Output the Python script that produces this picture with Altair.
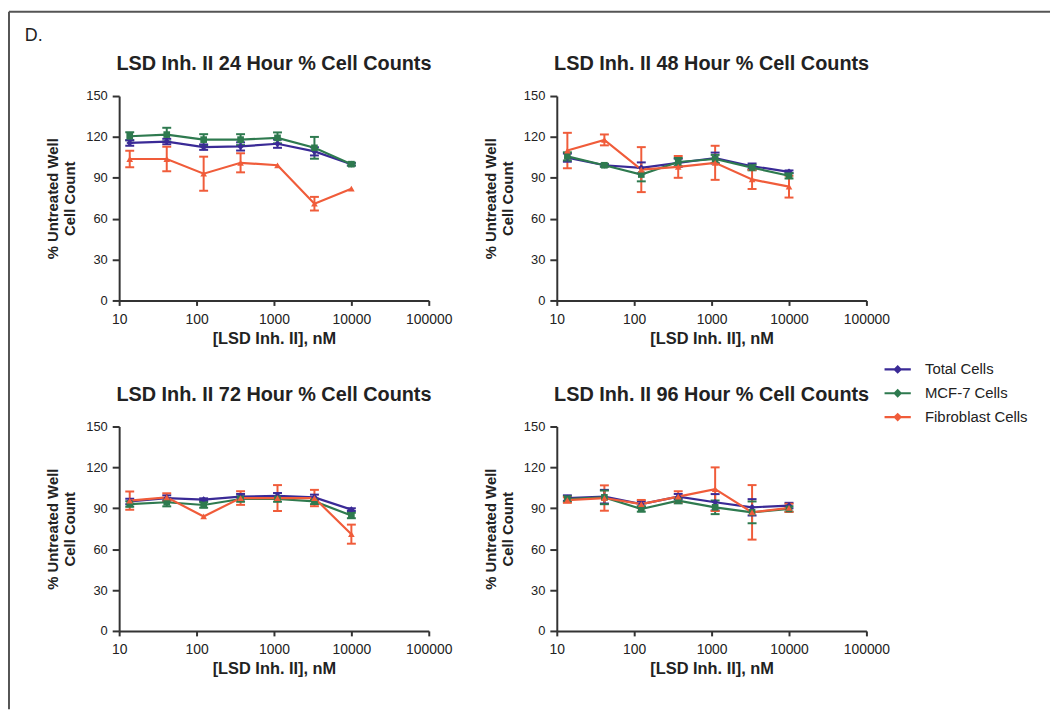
import altair as alt
import pandas as pd

# ---- data ----
concs = [13.7, 41.2, 123.5, 370.4, 1111.1, 3333.3, 10000]
series_names = ["Total Cells", "MCF-7 Cells", "Fibroblast Cells"]
hours = ["24", "48", "72", "96"]

total_24 = [115.6, 116.6, 112.5, 113.0, 115.0, 109.4, 100.0]
total_24_err = [2, 2, 2, 3, 3, 3, 1]
mcf_24 = [120.5, 121.7, 118.0, 118.0, 119.3, 112.0, 100.0]
mcf_24_err = [3, 5, 4, 4, 4, 8, 1]
fib_24 = [103.8, 103.8, 93.0, 101.0, 99.2, 71.0, 82.0]
fib_24_err = [6, 9, 12.5, 7, 0, 5, 0]

total_48 = [104.8, 99.2, 97.3, 101.0, 104.5, 98.5, 94.4]
total_48_err = [3, 1, 4, 3, 4, 2, 1]
mcf_48 = [105.7, 99.2, 92.4, 101.6, 103.8, 97.5, 91.5]
mcf_48_err = [3, 1, 5, 3, 3, 2, 2]
fib_48 = [110.0, 117.8, 96.0, 98.0, 101.0, 88.8, 83.5]
fib_48_err = [13, 4, 16.5, 8, 12.5, 7, 8]

total_72 = [95.0, 97.5, 96.3, 98.5, 99.2, 98.0, 89.0]
total_72_err = [2, 2, 1, 2, 2, 2, 1]
mcf_72 = [93.1, 94.4, 92.4, 96.8, 96.8, 95.0, 84.7]
mcf_72_err = [2, 3, 2, 2, 2, 2, 2]
fib_72 = [95.6, 98.0, 84.0, 97.5, 97.5, 97.5, 71.0]
fib_72_err = [6.7, 3, 0, 5, 9.5, 6, 7]

total_96 = [97.5, 98.5, 93.1, 98.5, 94.4, 90.7, 92.0]
total_96_err = [2, 5, 2, 2, 6, 6, 2]
mcf_96 = [96.8, 98.0, 89.5, 95.6, 90.7, 87.0, 89.5]
mcf_96_err = [2, 5, 2, 2, 5, 8, 2]
fib_96 = [96.0, 97.5, 93.1, 98.5, 104.0, 87.0, 90.3]
fib_96_err = [2, 9.3, 3, 4, 16, 20, 3]

x_ticks = [10, 100, 1000, 10000, 100000]
y_ticks = [0, 30, 60, 90, 120, 150]
colors = ["#3a2a96", "#2e7a4f", "#f05c3a"]
shapes = ["diamond", "square", "triangle-up"]

table = {
    "24": [(total_24, total_24_err), (mcf_24, mcf_24_err), (fib_24, fib_24_err)],
    "48": [(total_48, total_48_err), (mcf_48, mcf_48_err), (fib_48, fib_48_err)],
    "72": [(total_72, total_72_err), (mcf_72, mcf_72_err), (fib_72, fib_72_err)],
    "96": [(total_96, total_96_err), (mcf_96, mcf_96_err), (fib_96, fib_96_err)],
}
rows = []
for h in hours:
    for si, (vals, errs) in enumerate(table[h]):
        for c, v, e in zip(concs, vals, errs):
            rows.append({"hour": h, "series": series_names[si], "order": si,
                         "conc": c, "value": v, "err": e,
                         "lo": v - e, "hi": v + e})
df = pd.DataFrame(rows)

FONT = "Liberation Sans, Arial, sans-serif"
NARROW = "'Liberation Sans Narrow', 'Liberation Sans', Arial, sans-serif"

legend_def = alt.Legend(
    title=None, orient="none", legendX=770, legendY=261,
    symbolType="M-1,0L1,0M0,-0.22L0.22,0L0,0.22L-0.22,0Z",
    symbolSize=700, symbolStrokeWidth=2.2, symbolFillColor="transparent",
    symbolOpacity=1, labelFont=FONT, labelFontSize=15,
    labelColor="#222", rowPadding=1, labelOffset=13,
)
color_enc = alt.Color("series:N", scale=alt.Scale(domain=series_names, range=colors),
                      legend=legend_def)

xenc = alt.X("conc:Q", scale=alt.Scale(type="log", domain=[10, 100000]),
             axis=alt.Axis(values=x_ticks, format="d", title="[LSD Inh. II], nM",
                           labelFlush=False, grid=False, tickSize=5, tickWidth=2,
                           domainWidth=2, domainColor="#333", tickColor="#333",
                           labelFont=FONT, labelFontSize=14, labelColor="#222",
                           labelPadding=7, titleFont=FONT, titleFontSize=16.5,
                           titleFontWeight="bold", titleColor="#222", titlePadding=4))
yscale = alt.Scale(domain=[0, 150], nice=False)
yaxis = alt.Axis(values=y_ticks, title=["% Untreated Well", "Cell Count"], grid=False,
                 tickSize=7, tickWidth=2, domainWidth=2, domainColor="#333",
                 tickColor="#333", labelFont=NARROW, labelFontSize=13, labelColor="#222",
                 labelPadding=5, titleFont=FONT, titleFontSize=15, titleFontWeight="bold",
                 titleColor="#222", titlePadding=8)

one = pd.DataFrame({"k": [0]})


def panel(h, extra=None):
    base = alt.Chart(df).transform_filter(alt.datum.hour == h)
    ebase = base.transform_filter(alt.datum.err > 0)
    rule = ebase.mark_rule(strokeWidth=2, opacity=1).encode(
        x=xenc, y=alt.Y("lo:Q", scale=yscale, axis=yaxis), y2="hi:Q", color=color_enc)
    cap_lo = ebase.mark_tick(orient="horizontal", size=9, thickness=2, opacity=1).encode(
        x=xenc, y=alt.Y("lo:Q", scale=yscale, axis=yaxis), color=color_enc)
    cap_hi = ebase.mark_tick(orient="horizontal", size=9, thickness=2, opacity=1).encode(
        x=xenc, y=alt.Y("hi:Q", scale=yscale, axis=yaxis), color=color_enc)
    line = base.mark_line(strokeWidth=2.2, opacity=1).encode(
        x=xenc, y=alt.Y("value:Q", scale=yscale, axis=yaxis), color=color_enc,
        detail="series:N", order="conc:Q")
    layers = [rule, cap_lo, cap_hi, line]
    for name, col, shp in zip(series_names, colors, shapes):
        layers.append(
            base.transform_filter(alt.datum.series == name)
            .mark_point(filled=True, size=45, opacity=1, color=col, shape=shp)
            .encode(x=xenc, y=alt.Y("value:Q", scale=yscale, axis=yaxis)))
    title = alt.Chart(one).mark_text(
        text=f"LSD Inh. II {h} Hour % Cell Counts", font=FONT, fontSize=20,
        fontWeight="bold", color="#222", align="center", baseline="alphabetic"
    ).encode(x=alt.value(156), y=alt.value(-26))
    layers.append(title)
    if extra:
        layers = extra + layers
    return alt.layer(*layers).properties(width=312, height=206)


frame_top = alt.Chart(one).mark_rule(color="#555", strokeWidth=2).encode(
    x=alt.value(-111), x2=alt.value(938), y=alt.value(-85))
frame_left = alt.Chart(one).mark_rule(color="#555", strokeWidth=2).encode(
    x=alt.value(-111), y=alt.value(-85), y2=alt.value(618))
label_d = alt.Chart(one).mark_text(text="D.", font=FONT, fontSize=18, align="left",
                                   baseline="alphabetic", color="#222").encode(
    x=alt.value(-95), y=alt.value(-55))

p1 = panel("24", [frame_top, frame_left, label_d])
p2 = panel("48")
p3 = panel("72")
p4 = panel("96")

chart = alt.concat(
    p1, p2, p3, p4, columns=2, bounds="flush",
    spacing=alt.RowColnumber(row=127, column=129),
).resolve_scale(color="shared").resolve_legend(color="shared").properties(
    padding=0, background="white"
).configure_view(stroke=None)

chart.save("out.html", embed_options={"renderer": "svg", "actions": False})
